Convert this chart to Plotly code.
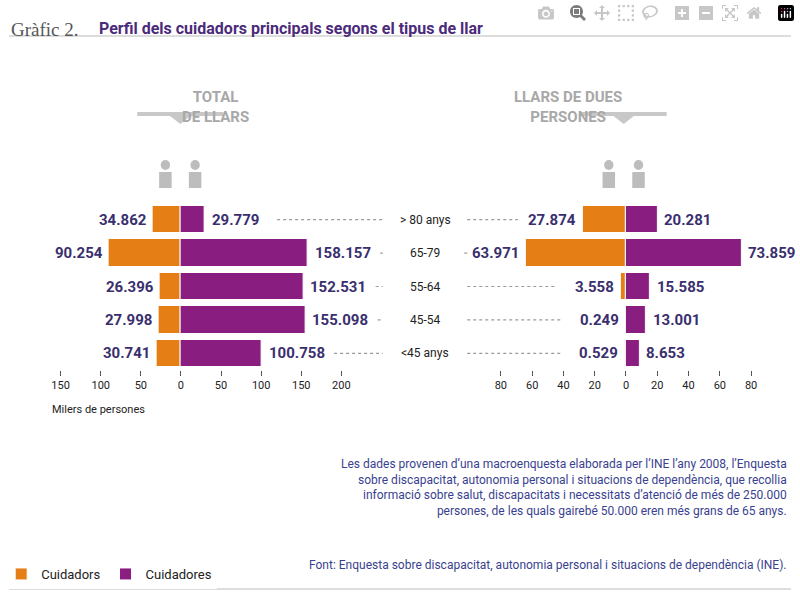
import plotly.graph_objects as go

ages = ["<45 anys", "45-54", "55-64", "65-79", "> 80 anys"]
total_m = [30.741, 27.998, 26.396, 90.254, 34.862]
total_f = [100.758, 155.098, 152.531, 158.157, 29.779]
dues_m = [0.529, 0.249, 3.558, 63.971, 27.874]
dues_f = [8.653, 13.001, 15.585, 73.859, 20.281]
left_ticks = [-150, -100, -50, 0, 50, 100, 150, 200]
right_ticks = [-80, -60, -40, -20, 0, 20, 40, 60, 80]

ORANGE = "#E57E14"
PURPLE = "#8A1D80"
NAVY = "#3A2F6E"
GREY = "#9A9A9A"
W, H = 800, 595

def fmt(v):
    return f"{v:.3f}"

def py(p):
    # pixel from top -> paper y
    return 1 - p / H

fig = go.Figure()
fig.add_trace(go.Bar(y=ages, x=[-v for v in total_m], orientation="h", marker_color=ORANGE,
                     name="Cuidadors", width=0.82, xaxis="x", yaxis="y"))
fig.add_trace(go.Bar(y=ages, x=total_f, orientation="h", marker_color=PURPLE,
                     name="Cuidadores", width=0.82, xaxis="x", yaxis="y"))
fig.add_trace(go.Bar(y=ages, x=[-v for v in dues_m], orientation="h", marker_color=ORANGE,
                     showlegend=False, width=0.82, xaxis="x2", yaxis="y2"))
fig.add_trace(go.Bar(y=ages, x=dues_f, orientation="h", marker_color=PURPLE,
                     showlegend=False, width=0.82, xaxis="x2", yaxis="y2"))

LD = (0.066, 0.425); LR = (-150, 200)
RD = (0.629, 0.949); RR = (-80, 80)
YD = (py(370), py(203))

def px(v, dom, rng):
    return dom[0] + (v - rng[0]) / (rng[1] - rng[0]) * (dom[1] - dom[0])

ann = []
shapes = []
for i, a in enumerate(ages):
    yp = YD[0] + (i + 0.5) / 5 * (YD[1] - YD[0])
    ann.append(dict(x=-total_m[i] - 5, y=a, xref="x", yref="y", text=f"<b>{fmt(total_m[i])}</b>",
                    xanchor="right", showarrow=False, font=dict(size=15, color=NAVY)))
    ann.append(dict(x=total_f[i] + 6, y=a, xref="x", yref="y", text=f"<b>{fmt(total_f[i])}</b>",
                    xanchor="left", showarrow=False, font=dict(size=15, color=NAVY)))
    ann.append(dict(x=-dues_m[i] - 3, y=a, xref="x2", yref="y2", text=f"<b>{fmt(dues_m[i])}</b>",
                    xanchor="right", showarrow=False, font=dict(size=15, color=NAVY)))
    ann.append(dict(x=dues_f[i] + 3, y=a, xref="x2", yref="y2", text=f"<b>{fmt(dues_f[i])}</b>",
                    xanchor="left", showarrow=False, font=dict(size=15, color=NAVY)))
    ann.append(dict(x=0.532, y=yp, xref="paper", yref="paper", text=a, showarrow=False,
                    font=dict(size=12, color="#222")))
    x0 = px(total_f[i], LD, LR) + 74 / W
    shapes.append(dict(type="line", xref="paper", yref="paper", x0=x0, x1=0.478, y0=yp, y1=yp,
                       line=dict(color=GREY, width=1.2, dash="dot")))
    x1 = px(-dues_m[i], RD, RR) - 66 / W
    shapes.append(dict(type="line", xref="paper", yref="paper", x0=0.586, x1=x1, y0=yp, y1=yp,
                       line=dict(color=GREY, width=1.2, dash="dot")))

# headings, notch bars and person icons
ICON = "#BDBDBD"
for xc, txt in [(0.219, "TOTAL<br>DE LLARS"), (0.786, "LLARS DE DUES<br>PERSONES")]:
    ann.append(dict(x=xc, y=py(86), xref="paper", yref="paper", text=f"<b>{txt}</b>",
                    showarrow=False, font=dict(size=15, color="#A8A8A8")))
    shapes.append(dict(type="line", xref="paper", yref="paper", x0=xc - 0.055, x1=xc + 0.055,
                       y0=py(114), y1=py(114), line=dict(color="#C8C8C8", width=4)))
    shapes.append(dict(type="path", xref="paper", yref="paper",
                       path=f"M {xc-0.013} {py(116)} L {xc+0.013} {py(116)} L {xc} {py(124)} Z",
                       fillcolor="#C8C8C8", line=dict(width=0)))
    for dx in (-0.019, 0.019):
        cx = xc + dx
        shapes.append(dict(type="circle", xref="paper", yref="paper", x0=cx - 0.006, x1=cx + 0.006,
                           y0=py(170), y1=py(160), fillcolor=ICON, line=dict(width=0)))
        shapes.append(dict(type="rect", xref="paper", yref="paper", x0=cx - 0.008, x1=cx + 0.008,
                           y0=py(188), y1=py(172), fillcolor=ICON, line=dict(width=0)))

ann.append(dict(x=0.0, y=py(17), xref="paper", yref="paper", xanchor="left", showarrow=False,
                text="Gràfic 2.", font=dict(family="Liberation Serif", size=19, color="#555")))
ann.append(dict(x=0.113, y=py(17), xref="paper", yref="paper", xanchor="left", showarrow=False,
                text="<b>Perfil dels cuidadors principals segons el tipus de llar</b>",
                font=dict(size=16, color="#4B2A7B")))
ann.append(dict(x=0.052, y=py(418), xref="paper", yref="paper", xanchor="left", showarrow=False,
                text="Milers de persones", font=dict(size=11, color="#222")))
ann.append(dict(x=0.998, y=py(520), xref="paper", yref="paper", xanchor="right", showarrow=False,
                align="right",
                text="Les dades provenen d’una macroenquesta elaborada per l’INE l’any 2008, l’Enquesta<br>"
                     "sobre discapacitat, autonomia personal i situacions de dependència, que recollia<br>"
                     "informació sobre salut, discapacitats i necessitats d’atenció de més de 250.000<br>"
                     "persones, de les quals gairebé 50.000 eren més grans de 65 anys.",
                font=dict(size=12, color="#3A3F8F")))
ann.append(dict(x=0.998, y=py(574), xref="paper", yref="paper", xanchor="right", showarrow=False,
                text="Font: Enquesta sobre discapacitat, autonomia personal i situacions de dependència (INE).",
                font=dict(size=12, color="#3A3F8F")))
shapes.append(dict(type="line", xref="paper", yref="paper", x0=0, x1=1, y0=py(36), y1=py(36),
                   line=dict(color="#BBBBBB", width=1)))
shapes.append(dict(type="line", xref="paper", yref="paper", x0=0, x1=1, y0=py(589), y1=py(589),
                   line=dict(color="#BBBBBB", width=1)))

axis_common = dict(showgrid=False, zeroline=False, showline=False, ticks="outside", ticklen=5,
                   tickcolor="#555", tickfont=dict(size=11, color="#222"), fixedrange=True)
fig.update_layout(
    width=W, height=H, margin=dict(l=0, r=0, t=0, b=0),
    paper_bgcolor="white", plot_bgcolor="white", barmode="relative", bargap=0,
    font=dict(family="Roboto"),
    xaxis=dict(domain=list(LD), range=list(LR), tickvals=left_ticks,
               ticktext=[str(abs(v)) for v in left_ticks], anchor="y", **axis_common),
    yaxis=dict(domain=list(YD), showticklabels=False, showgrid=False, zeroline=False, range=[-0.5, 4.5]),
    xaxis2=dict(domain=list(RD), range=list(RR), tickvals=right_ticks,
                ticktext=[str(abs(v)) for v in right_ticks], anchor="y2", **axis_common),
    yaxis2=dict(domain=list(YD), showticklabels=False, showgrid=False, zeroline=False, range=[-0.5, 4.5],
                anchor="x2"),
    legend=dict(orientation="h", x=-0.01, y=py(574), yanchor="middle", font=dict(size=13, color="#222"),
                traceorder="normal", itemwidth=30),
    annotations=ann, shapes=shapes,
)
fig.update_traces(marker_line_color="white", marker_line_width=1)
fig.write_html("out.html", post_script="document.body.style.margin='0';document.body.style.overflow='hidden';")
